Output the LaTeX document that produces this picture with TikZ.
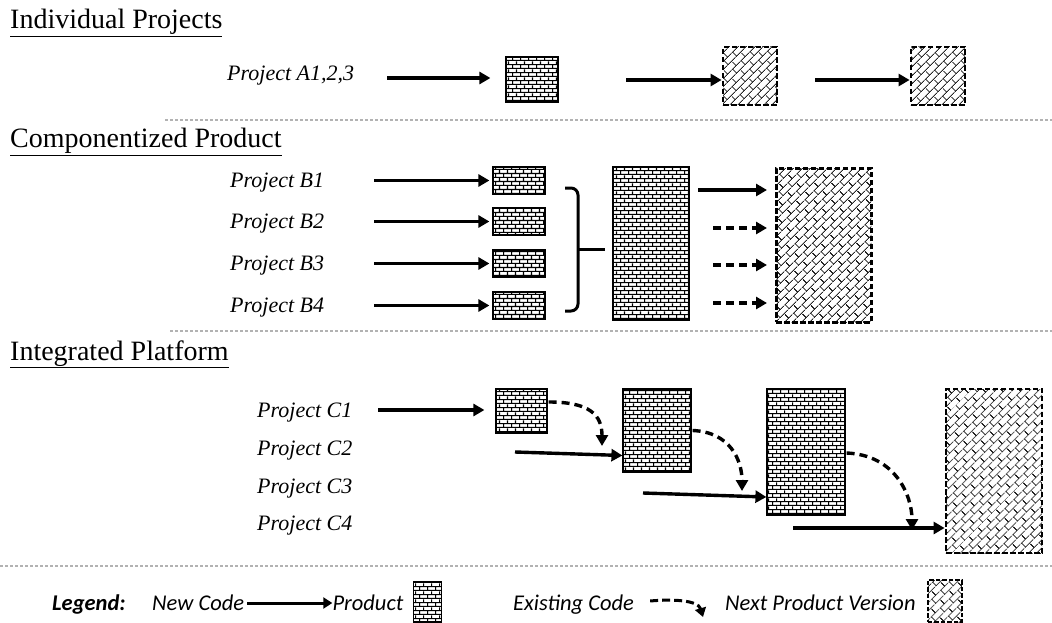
\documentclass[tikz,border=0pt]{standalone}
\usepackage{fontspec}
\setmainfont{Liberation Serif}
\newfontfamily\legendfont{Carlito}
\usetikzlibrary{arrows.meta,patterns.meta,calc}

% brick wall fill, upright courses
\tikzdeclarepattern{
  name=brickflat,
  type=uncolored,
  bottom left={(0pt,0pt)},
  top right={(8.4pt,7.8pt)},
  tile size={(8.4pt,7.8pt)},
  code={
    \pgfsetlinewidth{1.1pt}
    \pgfpathmoveto{\pgfpoint{0pt}{0.6pt}}\pgfpathlineto{\pgfpoint{8.4pt}{0.6pt}}
    \pgfpathmoveto{\pgfpoint{0pt}{4.5pt}}\pgfpathlineto{\pgfpoint{8.4pt}{4.5pt}}
    \pgfpathmoveto{\pgfpoint{0.6pt}{0.6pt}}\pgfpathlineto{\pgfpoint{0.6pt}{4.5pt}}
    \pgfpathmoveto{\pgfpoint{4.8pt}{4.5pt}}\pgfpathlineto{\pgfpoint{4.8pt}{7.8pt}}
    \pgfpathmoveto{\pgfpoint{4.8pt}{0pt}}\pgfpathlineto{\pgfpoint{4.8pt}{0.6pt}}
    \pgfusepath{stroke}
  }
}
% brick wall fill, courses tilted at 45 degrees
\tikzdeclarepattern{
  name=bricktilt,
  type=uncolored,
  bottom left={(0pt,0pt)},
  top right={(13pt,12pt)},
  tile size={(13pt,12pt)},
  tile transformation={rotate=45},
  code={
    \pgfsetlinewidth{1pt}
    \pgfpathmoveto{\pgfpoint{0pt}{0.5pt}}\pgfpathlineto{\pgfpoint{13pt}{0.5pt}}
    \pgfpathmoveto{\pgfpoint{0pt}{6.5pt}}\pgfpathlineto{\pgfpoint{13pt}{6.5pt}}
    \pgfpathmoveto{\pgfpoint{0.5pt}{0.5pt}}\pgfpathlineto{\pgfpoint{0.5pt}{6.5pt}}
    \pgfpathmoveto{\pgfpoint{7pt}{6.5pt}}\pgfpathlineto{\pgfpoint{7pt}{12pt}}
    \pgfpathmoveto{\pgfpoint{7pt}{0pt}}\pgfpathlineto{\pgfpoint{7pt}{0.5pt}}
    \pgfusepath{stroke}
  }
}

\begin{document}
\begin{tikzpicture}[x=1pt,y=-1pt,
  heading/.style={anchor=base west, inner sep=0, font=\fontsize{28}{32}\selectfont},
  proj/.style={anchor=base west, inner sep=0, font=\fontsize{22}{26}\selectfont\itshape},
  legtext/.style={anchor=base west, inner sep=0, font=\legendfont\fontsize{22.5}{26}\selectfont\itshape},
  brickbox/.style={draw=black, line width=1.2pt, pattern=brickflat, pattern color=black, inner sep=0},
  hatchbox/.style={draw=black, line width=2.8pt, dash pattern=on 5.5pt off 2.5pt,
    pattern=bricktilt, pattern color=black!85, inner sep=0},
  arr/.style={line width=3.4pt, -{Triangle[length=11pt,width=12pt]}},
  darr/.style={arr, dash pattern=on 8pt off 5pt},
  sep/.style={black!30, line width=1.2pt, dash pattern=on 3pt off 2pt},
  brace/.style={line width=3pt, rounded corners=7pt}
]
\useasboundingbox (0,0) rectangle (1052,623);

% ---------- section separators ----------
\coordinate (s1a) at (165,120); \coordinate (s1b) at (1052,120);
\coordinate (s2a) at (170,331); \coordinate (s2b) at (1052,331);
\coordinate (s3a) at (0,566);   \coordinate (s3b) at (1052,566);
\draw[sep] (s1a) -- (s1b);
\draw[sep] (s2a) -- (s2b);
\draw[sep] (s3a) -- (s3b);

% ---------- Individual Projects ----------
\node[heading] (hA) at (10,29) {\underline{Individual Projects}};
\node[proj] (pA) at (227,81) {Project A1,2,3};
\node[brickbox, minimum width=52pt, minimum height=45pt] (a1) at (532,79.5) {};
\node[hatchbox, minimum width=54pt, minimum height=58pt] (a2) at (750,76) {};
\node[hatchbox, minimum width=54pt, minimum height=58pt] (a3) at (938,76) {};
\coordinate (sa1) at (387,78);
\coordinate (sa2) at (626,80);
\coordinate (sa3) at (815,80);
\draw[arr, shorten >=15pt] (sa1) -- (sa1 -| a1.west);
\draw[arr] (sa2) -- (sa2 -| a2.west);
\draw[arr] (sa3) -- (sa3 -| a3.west);

% ---------- Componentized Product ----------
\node[heading] (hB) at (10,148) {\underline{Componentized Product}};
\foreach \i/\y in {1/180.5,2/221.5,3/263.5,4/305.5}{
  \node[proj] (pB\i) at (230,\y+7) {Project B\i};
  \node[brickbox, minimum width=52pt, minimum height=27pt] (b\i) at (519,\y) {};
  \coordinate (sb\i) at (374,\y);
  \draw[arr, shorten >=3pt] (sb\i) -- (sb\i -| b\i.west);
}
\node[brickbox, minimum width=76pt, minimum height=153pt] (bp) at (651,243.5) {};
\node[hatchbox, minimum width=95pt, minimum height=154pt, anchor=north west] (bn) at (775,167) {};
\coordinate (bstem) at (605,249.5);
\draw[brace] (565,188) -| (578,311) -- (565,311);
\draw[brace] (578,249.5) -- (bstem);
\coordinate (sbn1) at (698,190);
\draw[arr, shorten >=8pt] (sbn1) -- (sbn1 -| bn.west);
\foreach \y [count=\k from 2] in {228,265,303}{
  \coordinate (sbn\k) at (713,\y);
  \draw[darr, shorten >=8pt] (sbn\k) -- (sbn\k -| bn.west);
}

% ---------- Integrated Platform ----------
\node[heading] (hC) at (10,360) {\underline{Integrated Platform}};
\node[proj] (pC1) at (257,417) {Project C1};
\node[proj] (pC2) at (257,455) {Project C2};
\node[proj] (pC3) at (257,493) {Project C3};
\node[proj] (pC4) at (257,530) {Project C4};
\node[brickbox, minimum width=51pt, minimum height=44pt] (c1) at (521.5,411) {};
\node[brickbox, minimum width=68pt, minimum height=83pt] (c2) at (657,430.5) {};
\node[brickbox, minimum width=78pt, minimum height=126pt] (c3) at (806,452) {};
\node[hatchbox, minimum width=96pt, minimum height=164pt] (c4) at (994,471) {};
\coordinate (sc1) at (378,410);
\coordinate (sc2) at (515,452);
\coordinate (sc3) at (643,493);
\coordinate (sc4) at (793,528);
\draw[arr, shorten >=11pt] (sc1) -- (sc1 -| c1.west);
\draw[arr] (sc2) -- ($(c2.west)+(0,25)$);
\draw[arr] (sc3) -- ($(c3.west)+(0,45)$);
\draw[arr] (sc4) -- (sc4 -| c4.west);
% carried-over code flowing into the next stage
\coordinate (dc1) at (602,446);
\coordinate (dc2) at (742,491);
\coordinate (dc3) at (912,530);
\draw[darr] ($(c1.east)+(1,-9)$) .. controls (590,402) and (602,415) .. (dc1);
\draw[darr] ($(c2.east)+(1,0)$) .. controls (730,432) and (742,460) .. (dc2);
\draw[darr] ($(c3.east)+(1,1)$) .. controls (895,455) and (912,495) .. (dc3);

% ---------- legend ----------
\node[legtext, font=\legendfont\fontsize{22.5}{26}\selectfont\bfseries\itshape] (lg) at (52,610) {Legend:};
\node[legtext] (lnew) at (152,610) {New Code};
\coordinate (lnewend) at ($(lnew.base east)+(3,-7)$);
\node[legtext, anchor=base west] (lprod) at ($(lnew.base east)+(88,0)$) {Product};
\draw[arr, line width=3pt, -{Triangle[length=9pt,width=11pt]}] (lnewend) -- (lnewend -| lprod.west);
\node[brickbox, minimum width=28pt, minimum height=40pt, anchor=west] (lbrick) at ($(lprod.base east)+(9,-8)$) {};
\node[legtext] (lexist) at (513,610) {Existing Code};
\coordinate (lcurve) at (703,617);
\draw[darr, line width=3pt, dash pattern=on 8pt off 4pt, -{Triangle[length=9pt,width=11pt]}]
  ($(lexist.base east)+(16,-9)$) .. controls (672,599) and (698,600) .. (lcurve);
\node[legtext] (lnext) at (725,610) {Next Product Version};
\node[hatchbox, line width=2.4pt, dash pattern=on 4.5pt off 2pt, minimum width=34pt, minimum height=42pt, anchor=west] (lhatch) at ($(lnext.base east)+(11,-9)$) {};
\end{tikzpicture}
\end{document}
